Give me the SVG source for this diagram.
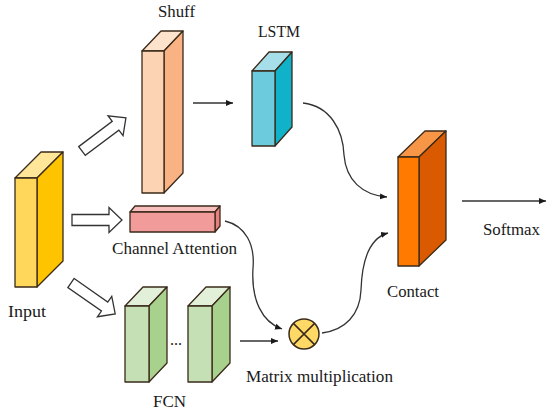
<svg xmlns="http://www.w3.org/2000/svg" width="550" height="418" viewBox="0 0 550 418">
<defs>
<marker id="ah" markerWidth="8" markerHeight="8" refX="7" refY="4" orient="auto" markerUnits="userSpaceOnUse">
<path d="M0,1 L7,4 L0,7 Z" fill="#1a1a1a"/>
</marker>
<style>
.e{stroke:#3a2a1a;stroke-width:1.3;stroke-linejoin:round}
.t{font-family:"Liberation Serif","Times New Roman",serif;font-size:16px;fill:#1a1a1a}
.c{fill:none;stroke:#333;stroke-width:1.3}
.h{fill:#fff;stroke:#333;stroke-width:1.3;stroke-linejoin:miter}
</style>
</defs>
<rect width="550" height="418" fill="#fff"/>

<g id="input">
<path class="e" d="M15,178 L41,152 L63,152 L37,178 Z" fill="#FFE699"/>
<path class="e" d="M37,178 L63,152 L63,261 L37,287 Z" fill="#FFC400"/>
<rect class="e" x="15" y="178" width="22" height="109" fill="#FFD75A"/>
<text class="t" x="8" y="317" textLength="38" lengthAdjust="spacingAndGlyphs">Input</text>
</g>

<g id="shuff">
<path class="e" d="M142,51 L161,31 L183,31 L164,51 Z" fill="#FDE2CC"/>
<path class="e" d="M164,51 L183,31 L183,173 L164,193 Z" fill="#F9B283"/>
<rect class="e" x="142" y="51" width="22" height="142" fill="#FCD4B4"/>
<text class="t" x="158" y="17" textLength="37" lengthAdjust="spacingAndGlyphs">Shuff</text>
</g>

<g id="lstm">
<path class="e" d="M252,71 L269,52 L292,52 L275,71 Z" fill="#A6DEEA"/>
<path class="e" d="M275,71 L292,52 L292,127 L275,146 Z" fill="#10B2CA"/>
<rect class="e" x="252" y="71" width="23" height="75" fill="#6CCBDC"/>
<text class="t" x="258" y="37" textLength="42" lengthAdjust="spacingAndGlyphs">LSTM</text>
</g>

<g id="channel-attention">
<path class="e" d="M130,212 L135,206 L220,206 L215,212 Z" fill="#F8BDBD"/>
<path class="e" d="M215,212 L220,206 L220,226 L215,232 Z" fill="#E88080"/>
<rect class="e" x="130" y="212" width="85" height="20" fill="#F19B9B"/>
<text class="t" x="112" y="254" textLength="125" lengthAdjust="spacingAndGlyphs">Channel Attention</text>
</g>

<g id="fcn">
<path class="e" d="M125,306 L143,287 L167,287 L149,306 Z" fill="#E2F0D9"/>
<path class="e" d="M149,306 L167,287 L167,363 L149,382 Z" fill="#A9D18E"/>
<rect class="e" x="125" y="306" width="24" height="76" fill="#C5E0B4"/>
<path class="e" d="M188,306 L206,287 L230,287 L212,306 Z" fill="#E2F0D9"/>
<path class="e" d="M212,306 L230,287 L230,363 L212,382 Z" fill="#A9D18E"/>
<rect class="e" x="188" y="306" width="24" height="76" fill="#C5E0B4"/>
<text class="t" x="176" y="345" text-anchor="middle">...</text>
<text class="t" x="153" y="407" textLength="33" lengthAdjust="spacingAndGlyphs">FCN</text>
</g>

<g id="matrix-multiplication">
<circle cx="304" cy="334" r="15" fill="#FFD966" stroke="#3a2a1a" stroke-width="1.5"/>
<path d="M293.4,323.4 L314.6,344.6 M314.6,323.4 L293.4,344.6" stroke="#3a2a1a" stroke-width="1.5"/>
<text class="t" x="246" y="382" textLength="147" lengthAdjust="spacingAndGlyphs">Matrix multiplication</text>
</g>

<g id="contact">
<path class="e" d="M398,157 L425,131 L446,131 L419,157 Z" fill="#F79646"/>
<path class="e" d="M419,157 L446,131 L446,240 L419,266 Z" fill="#D95A00"/>
<rect class="e" x="398" y="157" width="21" height="109" fill="#FF7A00"/>
<text class="t" x="387" y="297" textLength="52" lengthAdjust="spacingAndGlyphs">Contact</text>
</g>

<g id="softmax">
<text class="t" x="483" y="235" textLength="57" lengthAdjust="spacingAndGlyphs">Softmax</text>
</g>

<g id="connectors">
<polygon class="h" transform="translate(82,151) rotate(-37)" points="0,-5.5 42,-5.5 42,-12.5 55,0 42,12.5 42,5.5 0,5.5"/>
<polygon class="h" transform="translate(72,220)" points="0,-5.5 37,-5.5 37,-12.5 50,0 37,12.5 37,5.5 0,5.5"/>
<polygon class="h" transform="translate(71,283) rotate(35)" points="0,-5.5 41,-5.5 41,-12.5 54,0 41,12.5 41,5.5 0,5.5"/>
<line class="c" x1="193" y1="103" x2="233" y2="103" marker-end="url(#ah)"/>
<line class="c" x1="240" y1="341" x2="278" y2="341" marker-end="url(#ah)"/>
<line class="c" x1="462" y1="201" x2="546" y2="201" marker-end="url(#ah)"/>
<path class="c" d="M303,103 C330,106 343,130 344,155 C346,180 362,195 387,197" marker-end="url(#ah)"/>
<path class="c" d="M225,221 C246,226 255,245 253,268 C251,300 262,322 282,329" marker-end="url(#ah)"/>
<path class="c" d="M322,333 C345,330 360,315 361,290 C362,260 370,238 388,233" marker-end="url(#ah)"/>
</g>
</svg>
